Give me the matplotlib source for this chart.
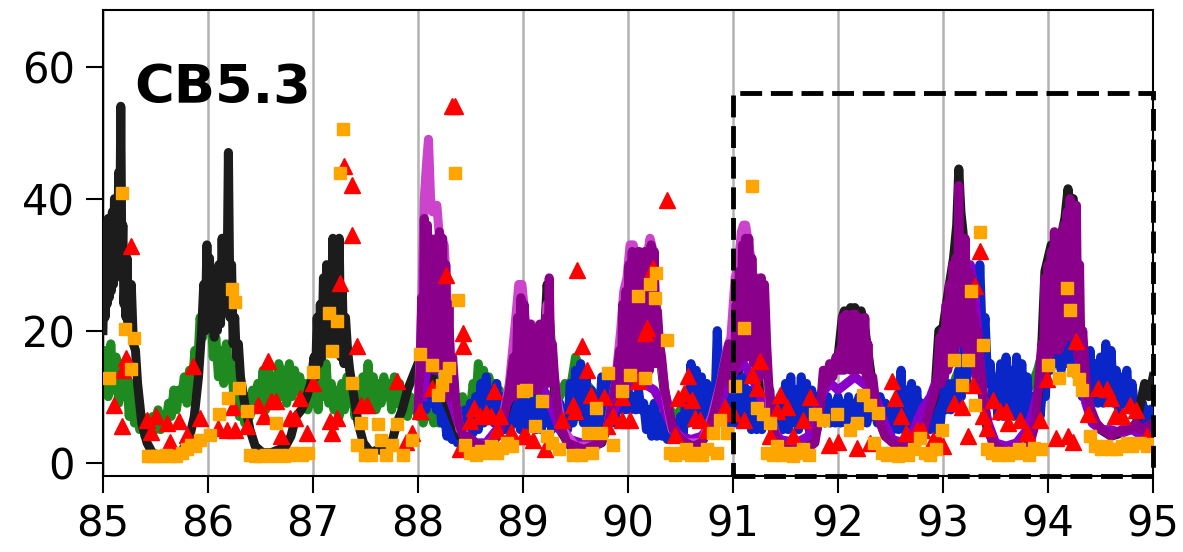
import matplotlib
matplotlib.use("Agg")
import matplotlib.pyplot as plt
from matplotlib.patches import Rectangle
import numpy as np

# ---- series values -------------------------------------------------------
black_t = [85.00, 85.01, 85.02, 85.03, 85.04, 85.05, 85.06, 85.07, 85.08, 85.09,
           85.10, 85.11, 85.12, 85.13, 85.14, 85.15, 85.16, 85.17, 85.18, 85.19,
           85.20, 85.21, 85.22, 85.23, 85.24, 85.25, 85.26, 85.27, 85.29, 85.31,
           85.33, 85.37, 85.42, 85.47, 85.55, 85.62, 85.70, 85.76, 85.82, 85.87,
           85.91, 85.94, 85.96, 85.975, 85.99, 86.00, 86.015, 86.03, 86.045, 86.06,
           86.075, 86.09, 86.105, 86.12, 86.135, 86.15, 86.165, 86.18, 86.195, 86.21,
           86.225, 86.24, 86.255, 86.27, 86.29, 86.31, 86.35, 86.40, 86.45, 86.52,
           86.60, 86.68, 86.74, 86.79, 86.84, 86.89, 86.94, 86.98, 87.01, 87.025,
           87.04, 87.055, 87.07, 87.085, 87.10, 87.115, 87.13, 87.145, 87.16, 87.175,
           87.19, 87.205, 87.22, 87.235, 87.25, 87.265, 87.28, 87.295, 87.31, 87.33,
           87.35, 87.39, 87.43, 87.48, 87.55, 87.62, 87.70, 87.75, 87.80, 87.85,
           87.90, 87.95, 88.00, 88.04, 88.08, 88.10, 88.13, 88.17, 88.21, 88.25,
           88.30, 88.35, 88.40, 88.50, 88.60, 88.70, 88.80, 88.88, 88.95, 89.00,
           89.05, 89.10, 89.15, 89.20, 89.23, 89.26, 89.30, 89.35, 89.45, 89.60,
           89.75, 89.85, 89.92, 89.97, 90.02, 90.08, 90.14, 90.20, 90.24, 90.27,
           90.30, 90.35, 90.42, 90.55, 90.70, 90.80, 90.90, 90.97, 91.05, 91.10,
           91.14, 91.18, 91.23, 91.27, 91.33, 91.40, 91.55, 91.70, 91.80, 91.86,
           91.93, 92.00, 92.04, 92.06, 92.08, 92.12, 92.14, 92.16, 92.20, 92.22,
           92.25, 92.30, 92.36, 92.45, 92.60, 92.75, 92.85, 92.92, 92.96, 93.00,
           93.05, 93.10, 93.13, 93.15, 93.17, 93.19, 93.22, 93.26, 93.30, 93.35,
           93.42, 93.50, 93.65, 93.80, 93.88, 93.93, 93.97, 94.00, 94.03, 94.07,
           94.12, 94.16, 94.19, 94.21, 94.24, 94.27, 94.31, 94.36, 94.42, 94.50,
           94.60, 94.70, 94.78, 94.84, 94.88, 94.92, 94.96, 95.00]
black_v = [20, 30, 22, 36, 24, 37, 25, 36, 26, 38,
           27, 40, 28, 38, 30, 44, 32, 54, 30, 36,
           24, 28, 22, 31, 21, 26, 20, 27, 18, 17,
           12, 6, 3, 1.5, 1, 1.2, 1, 2, 3.5, 7,
           13, 20, 27, 20, 33, 24, 31, 22, 27, 19,
           28, 20, 30, 21, 34, 23, 34, 24, 47, 22,
           30, 18, 22, 16, 18, 13, 9, 5, 2.5, 1.5,
           1.5, 2, 2.5, 4, 7, 8, 10, 12, 16, 13,
           22, 15, 24, 16, 28, 17, 30, 18, 29, 17,
           34, 18, 31, 17, 34, 16, 26, 15, 22, 17,
           14, 10, 6, 3, 1.5, 2, 1.5, 3, 6, 8,
           11, 13, 15, 17, 22, 15, 13, 12, 10, 10,
           8, 6, 4, 3, 2.5, 3, 6, 10, 18, 20,
           16, 15, 17, 18, 27, 20, 11, 5, 2.5, 2,
           3, 8, 15, 22, 28, 29, 29, 30, 28, 23.5,
           17, 10, 5, 3, 3, 6, 12, 15, 14, 16,
           17, 18, 15, 14, 9, 4, 2, 2, 5, 12,
           14, 16, 22, 23, 22, 23.5, 22, 23.5, 22, 23,
           21, 15, 8, 4, 2.5, 3, 7, 10, 20, 20.5,
           26, 31, 36, 44.5, 38, 35, 28, 21, 18, 13,
           5, 2.5, 1.5, 2, 6, 14, 29, 31, 33, 28,
           34, 37, 41.5, 39, 40, 30, 19, 10, 7, 5,
           4, 4.5, 5, 6, 9, 12, 10, 13]

# green: quarter-step values 85.000-88.975, then half-step values 89.00-95.00
green_a = [12, 17, 10, 18, 11, 16, 9, 15, 10, 14,
           7, 12, 6, 9, 5, 7, 4, 6, 4, 7,
           5, 8, 5, 7, 6, 9, 7, 11, 8, 11,
           10, 13, 9, 14, 11, 17, 14, 22, 19, 27,
           20, 25, 16, 19, 13, 17, 12, 18, 13, 15,
           9, 12, 7, 9, 6, 10, 7, 11, 8, 12,
           9, 14, 8, 15, 10, 13, 9, 15, 10, 14,
           9, 15, 10, 14, 11, 13, 9, 12, 8, 10,
           9, 13, 8, 14, 10, 15, 9, 12, 8, 11,
           7, 12, 8, 13, 9, 11, 7, 10, 8, 13,
           10, 15, 9, 13, 8, 12, 9, 13, 10, 12,
           8, 13, 9, 12, 8, 11, 7, 10, 8, 9,
           7, 9, 6, 9, 7, 8, 6, 8, 6, 9,
           7, 8, 6, 9, 7, 10, 8, 10, 7, 9,
           8, 12, 9, 15, 10, 14, 9, 13, 10, 12,
           8, 11, 9, 10, 8, 11, 9, 10, 8, 10]
green_b = [9, 10, 11, 9, 10, 9, 11, 10, 12, 11, 16, 14, 12, 11, 10, 11, 9, 10, 9, 10,
           10, 9, 10, 8, 8, 7, 8, 7, 8, 7, 8, 9, 10, 9, 10, 9, 9, 10, 9, 10,
           10, 11, 10, 9, 8, 9, 8, 9, 8, 9, 10, 9, 10, 9, 10, 9, 9, 8, 9, 9,
           9, 8, 9, 8, 9, 8, 9, 8, 9, 9, 8, 9, 10, 9, 10, 9, 8, 9, 10, 10,
           10, 11, 12, 14, 16, 17, 18, 19, 15, 12, 13, 12, 13, 12, 11, 10, 11, 12, 14, 17,
           19, 18, 18, 17, 17, 18, 19, 16, 14, 13, 14, 12, 13, 11, 12, 10, 9, 8, 7, 7,
           7]

# blue: quarter-step values from 88.05 to 95.00
blue_t0 = 88.05
blue_v = [12, 8, 16, 9, 14, 8, 11, 6, 8, 4,
          7, 3.5, 6, 3, 5, 3.5, 8, 4, 9, 4.5,
          10, 5, 12, 6, 13, 7, 11, 6, 12, 5,
          10, 5, 9, 5, 10, 6, 9, 5,
          10, 5, 9, 6, 10, 5, 9, 5, 10, 6,
          9, 5, 10, 6, 9, 5, 8, 5, 12, 6,
          14, 7, 15, 6, 13, 6, 11, 6, 10, 6,
          13, 6, 12, 7, 13, 6, 11, 8, 10, 8,
          11, 8, 10, 8, 11, 8, 9, 5, 8, 4,
          9, 4, 7, 4, 6, 3.5, 7, 3.5, 6, 4,
          7, 4, 10, 6, 15, 7, 14, 6, 13, 6,
          12, 6, 11, 7, 20, 8, 10, 6, 9, 6,
          12, 6, 14, 7, 13, 6, 11, 5, 10, 5,
          11, 5, 10, 6, 11, 5, 9, 5, 10, 5,
          12, 5, 13, 6, 11, 5, 13, 6, 12, 5,
          11, 6, 10, 6, 9, 6, 10, 6, 9, 6,
          10, 6, 9, 6, 10, 7, 9, 6, 10, 6,
          9, 6, 10, 7, 9, 6, 10, 6, 9, 5,
          8, 5, 9, 5, 14, 5, 11, 5, 12, 6,
          11, 5, 9, 5, 8, 5, 9, 5, 9, 6,
          11, 8, 12, 8, 12, 9, 14, 10, 18, 12,
          22, 14, 26, 15, 30, 18, 22, 12, 15, 9,
          10, 7, 15, 7, 16, 8, 14, 7, 16, 8,
          15, 7, 13, 7, 10, 7, 9, 7, 12, 10,
          20, 14, 21, 15, 19, 14, 21, 15, 20, 14,
          19, 13, 17, 10, 16, 9, 17, 10, 15, 9,
          16, 9, 18, 10, 17, 9, 14, 8, 13, 9,
          14, 8, 12, 8, 9, 6, 9, 6, 8, 6,
          8]

purple_t = [88.00, 88.02, 88.035, 88.05, 88.06, 88.075, 88.09, 88.10, 88.115, 88.13,
            88.145, 88.16, 88.175, 88.19, 88.205, 88.22, 88.235, 88.25, 88.265, 88.28,
            88.295, 88.31, 88.33, 88.36, 88.39, 88.43, 88.48, 88.55, 88.62, 88.70,
            88.76, 88.82, 88.87, 88.91, 88.93, 88.95, 88.965, 88.98, 88.995, 89.01,
            89.025, 89.04, 89.055, 89.07, 89.085, 89.10, 89.115, 89.13, 89.145, 89.16,
            89.175, 89.19, 89.205, 89.22, 89.235, 89.25, 89.265, 89.28, 89.30, 89.33,
            89.37, 89.42, 89.50, 89.58, 89.66, 89.74, 89.80, 89.85, 89.89, 89.92,
            89.935, 89.95, 89.965, 89.98, 89.995, 90.01, 90.025, 90.04, 90.055, 90.07,
            90.085, 90.10, 90.115, 90.13, 90.145, 90.16, 90.175, 90.19, 90.205, 90.22,
            90.235, 90.25, 90.265, 90.28, 90.30, 90.32, 90.35, 90.39, 90.43, 90.48,
            90.55, 90.62, 90.70, 90.77, 90.82, 90.87, 90.92, 90.96, 90.98, 91.00,
            91.015, 91.03, 91.045, 91.06, 91.075, 91.09, 91.105, 91.12, 91.135, 91.15,
            91.165, 91.18, 91.195, 91.21, 91.225, 91.24, 91.255, 91.27, 91.285, 91.30,
            91.32, 91.34, 91.37, 91.42, 91.50, 91.60, 91.70, 91.78, 91.83, 91.86,
            91.89, 91.92, 91.95, 91.98, 92.00, 92.015, 92.03, 92.045, 92.06, 92.075,
            92.09, 92.105, 92.12, 92.135, 92.15, 92.165, 92.18, 92.195, 92.21, 92.225,
            92.24, 92.255, 92.27, 92.285, 92.30, 92.33, 92.36, 92.40, 92.45, 92.52,
            92.60, 92.68, 92.76, 92.82, 92.87, 92.91, 92.94, 92.97, 92.985, 93.00,
            93.015, 93.03, 93.045, 93.06, 93.075, 93.09, 93.105, 93.12, 93.135, 93.15,
            93.165, 93.18, 93.195, 93.21, 93.225, 93.24, 93.255, 93.27, 93.285, 93.30,
            93.315, 93.33, 93.35, 93.38, 93.42, 93.47, 93.55, 93.65, 93.75, 93.83,
            93.88, 93.91, 93.94, 93.955, 93.97, 93.985, 94.00, 94.015, 94.03, 94.045,
            94.06, 94.075, 94.09, 94.105, 94.12, 94.135, 94.15, 94.165, 94.18, 94.195,
            94.21, 94.225, 94.24, 94.255, 94.27, 94.285, 94.30, 94.315, 94.33, 94.35,
            94.37, 94.41, 94.46, 94.52, 94.60, 94.70, 94.78, 94.84, 94.88, 94.95,
            95.00]
purple_v = [8, 14, 25, 16, 37, 20, 36, 15, 34, 18,
            28, 14, 34, 17, 35, 16, 34, 14, 30, 12,
            24, 10, 16, 9, 6, 4, 4, 3, 2.5, 3,
            4, 7, 11, 16, 10, 22, 12, 25, 14, 24,
            13, 20, 12, 21, 12, 17, 11, 20, 11, 21,
            12, 15, 13, 22, 12, 28, 14, 18, 13, 8,
            5, 3, 2.5, 2, 2.5, 3, 5, 9, 13, 17,
            10, 24, 12, 26, 13, 30, 14, 32, 15, 31,
            14, 32, 15, 31, 14, 32, 15, 30, 14, 33,
            16, 32, 15, 23, 18, 16, 11, 8, 5, 4,
            3, 2.5, 3, 5, 7.5, 11, 15, 18, 12, 16,
            14, 24, 15, 29, 16, 33, 17, 34, 16, 34,
            17, 31, 15, 28, 14, 23, 13, 28, 14, 27,
            18, 12, 6, 3.5, 2, 1.5, 2, 3, 8, 14,
            12, 15, 13, 16, 14, 17, 14, 22, 14, 22.5,
            15, 21, 14, 22.5, 15, 22.5, 14, 22, 15, 21,
            14, 22, 13, 18, 12, 13, 9, 6, 4, 3,
            2.5, 2, 3, 5, 8, 10, 12, 19, 12, 20,
            13, 24, 14, 27, 15, 30, 16, 31, 18, 42,
            20, 33, 18, 34, 17, 29, 16, 28, 15, 22,
            13, 20, 15, 11, 6, 3, 2, 1.5, 2, 3,
            6, 12, 18, 12, 28, 14, 30, 16, 32, 17,
            35, 18, 30, 17, 27, 18, 36, 19, 38, 20,
            40, 19, 38, 18, 39, 16, 30, 14, 20, 15,
            11, 8, 6, 5, 4, 5, 5, 6, 5, 5.5,
            6]

magenta_t = [88.00, 88.03, 88.06, 88.08, 88.10, 88.12, 88.14, 88.16, 88.18, 88.20,
             88.22, 88.25, 88.28, 88.31, 88.35, 88.40, 88.50, 88.60, 88.70, 88.80,
             88.87, 88.92, 88.96, 88.99, 89.02, 89.05, 89.08, 89.12, 89.16, 89.20,
             89.23, 89.27, 89.32, 89.38, 89.50, 89.70, 89.80, 89.88, 89.93, 89.96,
             89.99, 90.02, 90.05, 90.08, 90.11, 90.14, 90.18, 90.21, 90.24, 90.27,
             90.31, 90.36, 90.42, 90.55, 90.70, 90.80, 90.88, 90.94, 90.98, 91.02,
             91.05, 91.08, 91.10, 91.12, 91.15, 91.18, 91.21, 91.25, 91.28, 91.32,
             91.36, 91.42]
magenta_v = [8, 20, 40, 45, 49, 40, 38, 38, 39, 35,
             34, 33, 24, 17, 10, 5, 3.5, 2.5, 3, 6,
             12, 20, 27, 27, 22, 19, 21, 19, 20, 17,
             24, 17, 10, 5, 2.5, 2.5, 5, 12, 20, 26,
             28, 33, 33, 30, 32, 31, 31, 34, 32, 22,
             16, 10, 5, 3, 3, 7, 12, 17, 19, 28,
             30, 35, 36, 36, 33, 30, 24, 28, 25, 14,
             7, 3.5]

violet_t = [88.05, 88.10, 88.15, 88.20, 88.25, 88.30, 88.38, 88.45, 88.55, 88.65,
            88.75, 88.82, 88.88, 88.93, 88.98, 89.05, 89.12, 89.20, 89.28, 89.35,
            89.45, 89.55, 89.65, 89.75, 89.82, 89.90, 89.97, 90.05, 90.15, 90.25,
            90.32, 90.40, 90.50, 90.60, 90.70, 90.80, 90.88, 90.95, 91.02, 91.10,
            91.18, 91.26, 91.35, 91.45, 91.60, 91.72, 91.80, 91.87, 91.93, 92.00,
            92.08, 92.16, 92.24, 92.32, 92.38, 92.44, 92.52, 92.62, 92.72, 92.80,
            92.88, 92.95, 93.02, 93.10, 93.18, 93.22, 93.26, 93.30, 93.34, 93.38,
            93.43, 93.50, 93.60, 93.70, 93.80, 93.86, 93.92, 93.98, 94.04, 94.10,
            94.16, 94.20, 94.25, 94.30, 94.36, 94.42, 94.50, 94.60, 94.70, 94.80,
            94.90, 95.00]
violet_v = [10, 16, 18, 17, 15, 10, 6, 4, 3, 3,
            5, 8, 10, 12, 12, 11, 12, 11, 8, 5,
            3.5, 3, 3, 4, 6, 9, 11, 12, 12, 11,
            9, 6, 4, 3.5, 4, 6, 9, 12, 14, 15,
            13, 10, 6, 3.5, 3, 4, 8, 11, 12, 11,
            12, 13, 12, 11, 9, 6, 3.5, 3, 5, 8,
            10, 13, 15, 18, 22, 27, 30, 26, 18, 10,
            6, 3, 2.5, 3, 5, 8, 12, 18, 22, 24,
            30, 28, 22, 15, 9, 6, 5, 5, 4.5, 5,
            4, 5]

tri_t = [85.11, 85.18, 85.19, 85.22, 85.27, 85.42, 85.46, 85.51, 85.61, 85.64,
         85.72, 85.80, 85.86, 85.92, 86.10, 86.18, 86.24, 86.26, 86.37, 86.48,
         86.53, 86.57, 86.60, 86.65, 86.70, 86.78, 86.83, 86.88, 86.94, 87.00,
         87.16, 87.18, 87.23, 87.26, 87.30, 87.37, 87.37, 87.42, 87.46, 87.51,
         87.80, 87.89, 87.94, 88.02, 88.13, 88.27, 88.32, 88.35, 88.40, 88.43,
         88.43, 88.50, 88.53, 88.59, 88.65, 88.70, 88.72, 88.75, 88.78, 88.89,
         89.00, 89.03, 89.10, 89.21, 89.37, 89.48, 89.50, 89.51, 89.56, 89.61,
         89.65, 89.77, 89.80, 89.86, 89.94, 89.94, 90.02, 90.10, 90.16, 90.18,
         90.24, 90.37, 90.45, 90.48, 90.53, 90.57, 90.61, 90.64, 90.69, 90.75,
         90.92, 91.00, 91.10, 91.18, 91.23, 91.26, 91.35, 91.42, 91.45, 91.51,
         91.57, 91.67, 91.73, 91.91, 92.00, 92.18, 92.30, 92.51, 92.54, 92.60,
         92.65, 92.75, 92.80, 92.90, 92.95, 93.00, 93.10, 93.18, 93.24, 93.29,
         93.30, 93.35, 93.38, 93.42, 93.48, 93.54, 93.60, 93.62, 93.73, 93.80,
         93.92, 93.99, 94.08, 94.19, 94.24, 94.27, 94.38, 94.48, 94.56, 94.60,
         94.64, 94.70, 94.78, 94.84, 94.94]
tri_v = [8.8, 5.5, 14, 15.9, 32.8, 6.5, 4.7, 7, 6, 3.2,
         6.3, 4.2, 14.6, 6.8, 5.3, 5, 8.5, 5, 5.5, 8.8,
         7, 15.4, 9.3, 9.3, 4, 6.8, 6.8, 9.8, 4.5, 12,
         6.3, 4.5, 6.8, 27.2, 44.9, 42.1, 34.5, 17.6, 8.8, 8.8,
         12.3, 3.2, 4.5, 7.8, 11.3, 28.5, 54, 54, 2, 19.6,
         17.6, 6.3, 8.3, 7, 7.5, 7, 10.8, 5, 7, 4.7,
         4, 4, 3.5, 2, 6.5, 8.8, 7.8, 29.2, 17.6, 14.1,
         10.3, 10, 5.5, 7, 10, 6.5, 6.5, 12.3, 19.6, 20.4,
         29.5, 39.8, 4.2, 9.8, 10.6, 13.1, 9.5, 6.8, 6.5, 5,
         8.5, 7.5, 6.5, 13.3, 11.3, 15.4, 4, 7.8, 10.3, 8.5,
         4, 6.5, 10, 2.7, 3.2, 2.2, 3, 12.3, 9.8, 7,
         4.5, 5, 5, 3.5, 3.5, 2.5, 9, 8.5, 4, 11.8,
         26.7, 32, 7, 5.3, 9.5, 7.8, 7.8, 6, 6.5, 4.5,
         6.5, 12.6, 3.7, 4, 3.2, 18.4, 7.3, 11.3, 11.1, 9.8,
         7, 7, 8.8, 8, 4]

sq_t = [85.06, 85.18, 85.21, 85.27, 85.30, 85.43, 85.47, 85.52, 85.56, 85.60,
        85.65, 85.70, 85.75, 85.80, 85.84, 85.88, 85.92, 86.02, 86.11, 86.19,
        86.23, 86.26, 86.30, 86.37, 86.40, 86.45, 86.50, 86.55, 86.60, 86.65,
        86.68, 86.72, 86.78, 86.84, 86.90, 86.95, 87.00, 87.15, 87.18, 87.23,
        87.26, 87.29, 87.37, 87.42, 87.46, 87.50, 87.55, 87.62, 87.65, 87.70,
        87.75, 87.80, 87.86, 87.94, 88.02, 88.13, 88.19, 88.23, 88.26, 88.30,
        88.35, 88.38, 88.45, 88.50, 88.55, 88.60, 88.65, 88.70, 88.75, 88.80,
        88.85, 88.90, 89.00, 89.03, 89.11, 89.18, 89.23, 89.28, 89.34, 89.48,
        89.55, 89.62, 89.66, 89.70, 89.74, 89.81, 89.86, 89.94, 90.02, 90.10,
        90.16, 90.21, 90.26, 90.27, 90.37, 90.40, 90.45, 90.50, 90.55, 90.60,
        90.65, 90.70, 90.75, 90.81, 90.85, 90.88, 90.94, 91.02, 91.10, 91.18,
        91.23, 91.29, 91.35, 91.32, 91.38, 91.42, 91.47, 91.52, 91.57, 91.62,
        91.67, 91.72, 91.78, 91.86, 91.99, 92.11, 92.18, 92.24, 92.30, 92.34,
        92.38, 92.42, 92.47, 92.52, 92.57, 92.62, 92.67, 92.72, 92.78, 92.83,
        92.88, 92.93, 92.99, 93.10, 93.18, 93.24, 93.27, 93.30, 93.35, 93.38,
        93.42, 93.47, 93.52, 93.57, 93.62, 93.67, 93.72, 93.77, 93.82, 93.87,
        93.93, 94.00, 94.10, 94.18, 94.21, 94.24, 94.29, 94.32, 94.40, 94.45,
        94.50, 94.55, 94.60, 94.65, 94.70, 94.75, 94.80, 94.88, 94.94, 95.00]
sq_v = [12.8, 40.9, 20.2, 14.2, 18.9, 1, 1, 1, 1, 1.2,
        1, 1, 1.5, 2, 2.7, 2.5, 3.5, 4.2, 7.3, 9.8,
        26.3, 24.4, 11.3, 7.8, 1.2, 1, 1, 1.2, 1, 6,
        1.2, 1, 1.2, 1.5, 1.2, 1.5, 13.8, 22.7, 16.9, 21.4,
        43.9, 50.5, 12.1, 2.7, 6, 1.2, 1.2, 5.8, 3.5, 1.2,
        2.7, 5.8, 1.2, 3.5, 16.4, 14.8, 10.3, 11.8, 13.1, 14.3,
        43.9, 24.7, 2.7, 1.5, 1.2, 1.8, 1.5, 2.5, 1.5, 2.2,
        3, 2.5, 10.8, 11, 5.5, 9.3, 4, 3, 2, 1.2,
        1.2, 4.5, 1.5, 8.3, 4.5, 13.6, 2.7, 10.8, 13.3, 25.2,
        12.8, 27, 24.9, 28.7, 18.6, 1.5, 1.2, 1.5, 2, 1.2,
        1.5, 1.2, 2, 4.5, 1.5, 6.5, 4.5, 11.6, 20.4, 41.9,
        8.3, 7.3, 6, 1.5, 1.2, 2.5, 1.2, 1.5, 1, 1.5,
        2, 1.2, 7.3, 6.5, 7.3, 5, 6, 10.3, 8.8, 3,
        7.5, 1.5, 1.2, 1.5, 1, 1.5, 1.2, 2, 3.7, 1.5,
        1.2, 2, 5, 15.6, 11.8, 15.6, 26, 8.8, 35, 17.9,
        2, 1.5, 1.2, 1.5, 1.2, 1.5, 2, 1.5, 1.2, 2.2,
        2, 14.8, 12.8, 26.5, 23.2, 14.1, 12.6, 11, 4, 2.5,
        2, 2.5, 2, 2, 2.5, 3, 2.5, 3, 2.5, 2.8]

years = list(range(85, 96))
y_ticks = [0, 20, 40, 60]
panel_label = "CB5.3"

# ---- figure --------------------------------------------------------------
fig = plt.figure(figsize=(11.83, 5.52), dpi=100)
ax = fig.add_axes([0.087, 0.138, 0.8877, 0.844])

green_t = np.concatenate([85.0 + 0.025 * np.arange(len(green_a)),
                          89.0 + 0.05 * np.arange(len(green_b))])
green_v = green_a + green_b
blue_t = blue_t0 + 0.025 * np.arange(len(blue_v))

lw = 6.5
ax.plot(green_t, green_v, color="#1f8a1f", lw=lw, zorder=2)
ax.plot(blue_t, blue_v, color="#0a26c8", lw=lw, zorder=3)
ax.plot(black_t, black_v, color="#1c1c1c", lw=lw, zorder=4)
ax.plot(violet_t, violet_v, color="#8a00c8", lw=lw, zorder=5)
ax.plot(magenta_t, magenta_v, color="#cc44cc", lw=lw, zorder=6)
ax.plot(purple_t, purple_v, color="#8b008b", lw=lw, zorder=7)

ax.plot(tri_t, tri_v, ls="none", marker="^", ms=11, color="red",
        mec="red", zorder=8)
ax.plot(sq_t, sq_v, ls="none", marker="s", ms=8.5, color="orange",
        mec="orange", zorder=9)

ax.add_patch(Rectangle((91, -2), 4, 58, fill=False, ec="black", lw=3.5,
                       ls=(0, (4.5, 1.8)), zorder=10, clip_on=False))

ax.text(85.3, 54.5, panel_label, fontsize=39, fontweight="bold",
        ha="left", va="baseline", zorder=11)

ax.set_xlim(85, 95)
ax.set_ylim(-2, 68.6)
ax.set_xticks(years)
ax.set_xticklabels([str(y) for y in years])
ax.set_yticks(y_ticks)
ax.grid(axis="x", color="#b3b3b3", lw=1.8, zorder=0)
ax.set_axisbelow(True)
ax.tick_params(labelsize=30, length=12, width=1.5, pad=8)
for s in ax.spines.values():
    s.set_linewidth(1.5)

fig.savefig("out.png", dpi=100)
